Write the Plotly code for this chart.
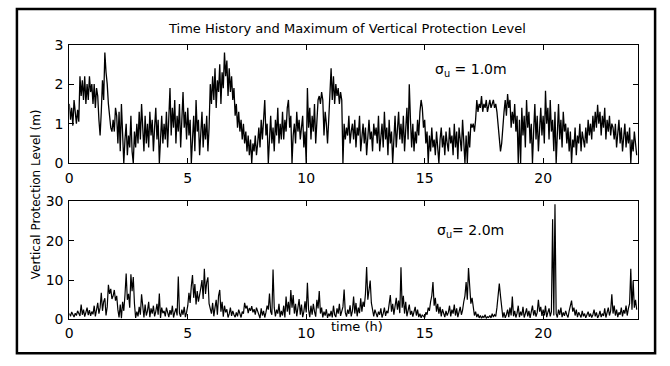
import plotly.graph_objects as go

# ---------------- data ----------------
sample_step_h = 0.05  # one sample every 3 minutes

vpl_sigma1 = [
    1.5, 1.1, 1.4, 0.95, 1.6, 1.2, 1.0, 1.35, 1.05, 2.2, 1.7, 2.1, 1.6, 2.2, 1.5, 2.0, 1.6, 2.2, 1.8, 2.0,
    1.5, 2.0, 1.4, 1.9, 1.7, 1.1, 0.7, 1.3, 2.1, 1.6, 2.8, 2.3, 2.0, 1.5, 1.2, 0.9, 0.8, 1.1, 0.8, 1.4,
    1.2, 0.5, 1.3, 0.3, 1.5, 0.9, 0.0, 0.6, 1.0, 0.2, 0.7, 0.4, 1.2, 0.3, 0.0, 0.8, 0.4, 1.0, 0.5, 1.3,
    0.6, 1.5, 0.8, 0.3, 1.2, 0.5, 1.0, 0.4, 1.3, 0.7, 1.1, 0.3, 0.9, 1.4, 0.6, 1.1, 0.0, 0.8, 1.2, 0.5,
    1.0, 0.6, 1.3, 0.4, 1.1, 1.9, 0.7, 1.4, 0.9, 1.6, 0.5, 1.2, 0.8, 1.5, 0.4, 1.0, 1.8, 0.9, 1.3, 0.6,
    1.4, 0.7, 1.1, 0.0, 0.5, 1.2, 0.3, 1.6, 0.8, 1.1, 0.2, 0.9, 1.3, 0.4, 1.0, 0.6, 1.2, 0.3, 0.9, 2.0,
    1.5, 2.2, 1.6, 2.4, 1.4, 2.1, 1.8, 2.5, 1.5, 2.3, 1.9, 2.8, 2.2, 2.6, 1.7, 2.4, 1.8, 2.2, 1.6, 1.9,
    1.2, 1.5, 0.9, 1.3, 0.8, 1.1, 0.6, 1.0, 0.5, 0.8, 0.3, 0.7, 0.2, 0.6, 0.0, 0.5, 0.3, 0.7, 0.2, 0.5,
    0.9, 0.4, 1.1, 0.6, 1.3, 1.6, 0.7, 1.0, 0.0, 0.6, 1.2, 0.5, 0.9, 0.3, 1.1, 0.7, 1.4, 0.5, 1.0, 0.6,
    1.3, 0.6, 1.1, 0.8, 1.4, 1.6, 0.9, 1.2, 0.0, 0.7, 1.0, 0.5, 1.3, 0.8, 1.1, 0.6, 0.9, 1.2, 0.4, 0.8,
    0.0, 1.9, 0.9, 1.4, 0.6, 1.2, 0.8, 1.5, 0.5, 1.1, 1.6, 1.7, 1.5, 1.8, 1.6, 0.7, 1.3, 1.0, 0.5, 1.1,
    1.8, 2.4, 1.6, 2.2, 1.5, 2.0, 1.7, 1.9, 1.5, 1.8, 1.6, 0.0, 1.0, 0.6, 0.9, 0.7, 1.2, 0.5, 0.8, 1.0,
    0.6, 1.1, 0.4, 0.9, 0.7, 1.2, 0.3, 0.8, 1.0, 0.5, 0.9, 0.2, 0.7, 1.1, 0.6, 0.8, 0.3, 1.0, 0.7, 0.9,
    0.5, 1.2, 0.3, 0.8, 1.0, 0.4, 1.3, 0.6, 0.9, 0.2, 1.1, 0.5, 0.8, 0.0, 0.7, 1.2, 0.4, 0.9, 1.3, 0.6,
    1.0, 0.5, 1.2, 0.3, 0.9, 1.4, 0.6, 2.0, 1.1, 0.4, 1.0, 0.3, 0.8, 0.5, 1.1, 0.7, 1.3, 1.6, 1.4, 0.9,
    1.1, 0.5, 0.8, 0.0, 0.7, 0.3, 0.9, 0.4, 0.6, 0.2, 0.8, 0.3, 0.0, 0.6, 0.9, 0.4, 0.7, 0.2, 0.8, 0.5,
    0.3, 0.9, 0.5, 0.7, 0.2, 1.0, 0.4, 0.8, 0.1, 0.9, 0.6, 0.3, 1.1, 0.5, 0.0, 0.7, 0.0, 0.8, 0.4, 1.0,
    0.9, 1.0, 0.8, 1.1, 1.6, 1.3, 1.5, 1.4, 1.7, 1.3, 1.5, 1.4, 1.6, 1.3, 1.5, 1.6, 1.4, 1.5, 1.6, 1.4,
    1.5, 1.3, 0.9, 0.6, 0.3, 0.5, 1.0, 1.3, 1.6, 1.2, 1.75, 1.4, 1.6, 0.9, 1.3, 1.0, 1.5, 0.8, 1.2, 0.0,
    1.1, 0.0, 1.4, 0.7, 1.2, 0.4, 1.6, 0.9, 1.3, 0.5, 1.0, 0.0, 0.8, 1.5, 0.6, 1.2, 0.3, 1.0, 1.4, 0.7,
    1.2, 0.5, 1.83, 1.0, 1.4, 0.6, 1.6, 0.8, 1.1, 0.3, 1.3, 0.0, 0.9, 1.5, 0.6, 1.1, 0.4, 1.3, 0.8, 1.0,
    0.5, 0.9, 0.3, 0.8, 0.0, 0.6, 0.4, 0.9, 0.2, 0.7, 0.5, 1.0, 0.3, 0.8, 0.6, 0.4, 0.9, 0.5, 1.1, 0.7,
    1.0, 0.6, 1.2, 0.8, 1.3, 0.9, 1.48, 1.0, 1.3, 0.7, 1.2, 0.9, 1.4, 0.6, 1.1, 0.8, 1.2, 0.7, 1.0, 0.9,
    0.6, 1.0, 0.4, 0.8, 1.1, 0.5, 0.9, 0.3, 0.7, 1.0, 0.4, 0.8, 0.5, 0.9, 0.0, 0.6, 0.3, 0.8, 0.5, 0.2,
]

vpl_sigma2 = [
    1.5, 0.8, 1.9, 1.2, 0.6, 1.6, 1.0, 2.2, 1.4, 0.9, 3.8, 1.2, 2.5, 0.7, 1.8, 3.0, 1.1, 2.4, 0.9, 2.0,
    1.3, 3.5, 0.8, 2.6, 4.2, 1.5, 3.0, 6.8, 2.2, 4.5, 5.4, 1.0, 3.2, 8.8, 6.5, 7.8, 5.2, 6.0, 7.5, 4.8,
    6.0, 2.5, 0.5, 3.8, 0.3, 4.5, 2.2, 6.2, 11.7, 5.0, 6.5, 3.0, 11.5, 7.2, 10.8, 4.0, 0.4, 2.0, 0.8, 3.2,
    1.2, 6.4, 2.5, 0.5, 3.8, 1.0, 2.2, 4.5, 0.6, 2.8, 1.5, 3.5, 0.8, 2.0, 4.0, 1.2, 6.6, 0.4, 3.0, 1.6,
    2.2, 0.8, 3.0, 1.5, 0.6, 2.4, 1.2, 3.5, 0.5, 1.8, 2.8, 1.0, 10.9, 1.6, 0.7, 2.5, 1.2, 3.2, 0.6, 1.8,
    3.5, 6.8, 4.2, 8.5, 11.3, 5.5, 9.0, 3.8, 7.2, 4.5, 6.0, 8.0, 10.0, 5.2, 12.9, 6.5, 9.5, 10.7, 4.0, 2.5,
    1.5, 4.2, 0.8, 3.0, 5.0, 1.2, 6.0, 7.5, 2.0, 4.5, 0.7, 3.5, 1.8, 2.6, 0.5, 1.4, 3.0, 0.9, 2.2, 1.2,
    0.6, 1.8, 0.8, 2.5, 1.2, 0.5, 2.0, 1.5, 4.2, 2.8, 3.5, 1.6, 2.9, 2.2, 3.4, 1.8, 2.6, 1.2, 3.0, 2.0,
    1.5, 0.3, 2.8, 1.0, 2.2, 0.5, 1.8, 3.5, 2.5, 6.6, 2.0, 1.2, 12.7, 3.0, 0.8, 2.5, 1.5, 4.0, 0.6, 2.2,
    1.0, 3.5, 0.5, 5.8, 2.0, 4.5, 1.2, 7.5, 3.0, 6.2, 1.5, 4.0, 0.8, 2.5, 5.2, 1.2, 3.8, 0.6, 2.0, 4.6,
    1.8, 9.3, 2.5, 0.6, 3.5, 1.2, 4.0, 2.0, 0.7, 5.0, 2.8, 7.2, 1.5, 3.0, 0.5, 2.0, 1.0, 2.6, 0.4, 1.5,
    0.8, 2.2, 0.5, 3.5, 1.2, 0.6, 2.8, 1.5, 4.0, 0.9, 2.0, 3.2, 7.6, 1.8, 0.7, 2.5, 1.4, 3.6, 0.8, 2.2,
    5.8, 1.5, 4.2, 0.8, 3.0, 1.6, 5.4, 2.0, 4.5, 3.2, 6.5, 13.3, 5.0, 8.0, 9.9, 4.2, 2.0, 0.8, 2.5, 1.2,
    0.6, 2.0, 1.2, 2.8, 0.5, 1.5, 3.0, 0.9, 2.2, 1.6, 4.5, 6.2, 2.0, 4.0, 1.2, 3.5, 5.5, 2.5, 4.8, 1.6,
    13.3, 3.0, 6.0, 1.5, 4.5, 0.8, 2.5, 3.8, 1.2, 2.2, 0.7, 1.8, 3.2, 1.0, 2.5, 0.6, 1.5, 0.4, 1.2, 0.8,
    0.5, 1.8, 1.2, 3.0, 2.2, 4.5, 6.0, 9.5, 3.5, 5.5, 2.0, 4.0, 1.5, 3.2, 0.8, 2.6, 1.5, 0.6, 2.2, 1.0,
    1.8, 3.5, 0.8, 2.5, 1.5, 3.8, 1.0, 2.8, 0.6, 2.0, 3.2, 1.2, 2.4, 4.5, 6.0, 9.5, 5.0, 13.1, 7.5, 4.0,
    5.5, 2.5, 1.0, 2.0, 0.6, 1.4, 0.4, 1.0, 0.3, 0.8, 0.5, 1.2, 0.3, 0.7, 0.5, 1.0, 0.4, 1.5, 0.6, 1.2,
    0.8, 3.0, 5.5, 9.1, 6.0, 2.5, 0.5, 1.8, 0.4, 1.2, 2.5, 0.6, 3.0, 1.0, 5.8, 0.8, 2.2, 0.5, 1.6, 3.5,
    0.6, 2.0, 1.0, 3.2, 0.5, 1.5, 2.8, 0.8, 2.2, 0.4, 1.6, 3.5, 1.0, 2.4, 0.7, 1.8, 5.0, 2.0, 3.2, 0.9,
    2.5, 1.0, 3.5, 0.6, 1.8, 2.8, 0.8, 2.0, 25.5, 1.0, 29.3, 1.5, 0.5, 2.5, 1.2, 3.0, 0.6, 1.8, 0.9, 2.2,
    1.2, 0.5, 2.2, 3.2, 4.8, 2.0, 3.0, 1.0, 2.5, 0.6, 1.8, 1.2, 0.5, 2.2, 0.8, 1.5, 0.4, 1.2, 2.0, 0.7,
    1.5, 0.5, 1.2, 2.5, 0.8, 1.8, 0.4, 1.0, 2.2, 0.6, 1.5, 0.9, 2.8, 0.5, 1.6, 3.0, 1.0, 2.2, 6.4, 1.5,
    3.5, 1.0, 2.5, 0.6, 1.8, 1.2, 3.0, 0.8, 2.4, 1.5, 3.5, 1.0, 2.8, 4.0, 12.9, 2.5, 9.9, 3.0, 5.0, 2.5,
]

time_h = [round(i * sample_step_h, 2) for i in range(len(vpl_sigma1))]

x_ticks = [0, 5, 10, 15, 20]
y1_ticks = [0, 1, 2, 3]
y2_ticks = [0, 10, 20, 30]

title_text = "Time History and Maximum of Vertical Protection Level"
ylabel_text = "Vertical Protection Level (m)"
xlabel_text = "time (h)"
label_top = "σ<sub>u</sub> = 1.0m"
label_bot = "σ<sub>u</sub>= 2.0m"

# ---------------- layout helpers ----------------
W, H = 670, 366
def px(x):
    return x / W
def py(y):
    return 1 - y / H

FONT = "DejaVu Sans, Arial, sans-serif"

fig = go.Figure()
fig.add_trace(go.Scatter(x=time_h, y=vpl_sigma1, mode="lines",
                         line=dict(color="black", width=1.3), xaxis="x", yaxis="y",
                         showlegend=False))
fig.add_trace(go.Scatter(x=time_h, y=vpl_sigma2, mode="lines",
                         line=dict(color="black", width=1.2), xaxis="x2", yaxis="y2",
                         showlegend=False))

axis_common = dict(showline=True, linecolor="black", linewidth=1, mirror="ticks",
                   ticks="inside", ticklen=5, tickcolor="black", tickwidth=1,
                   showgrid=False, zeroline=False,
                   tickfont=dict(family=FONT, size=14, color="black"))

xdom = [px(65.7), px(637.7)]
fig.update_layout(
    width=W, height=H,
    margin=dict(l=0, r=0, t=0, b=0),
    paper_bgcolor="white", plot_bgcolor="white",
    xaxis=dict(domain=xdom, range=[0, 24], tickvals=x_ticks, anchor="y",
               ticklabelstandoff=2, **axis_common),
    yaxis=dict(domain=[py(162.3), py(38.3)], range=[0, 3], tickvals=y1_ticks,
               anchor="x", ticklabelstandoff=2, **axis_common),
    xaxis2=dict(domain=xdom, range=[0, 24], tickvals=x_ticks, anchor="y2",
                ticklabelstandoff=1, **axis_common),
    yaxis2=dict(domain=[py(325.7), py(202.3)], range=[0, 30], tickvals=y2_ticks,
                anchor="x2", ticklabelstandoff=2, **axis_common),
)

# outer figure frame
fig.add_shape(type="rect", xref="paper", yref="paper",
              x0=px(13), x1=px(655), y0=py(361), y1=py(1),
              line=dict(color="black", width=2.5), fillcolor="rgba(0,0,0,0)")

fig.add_annotation(text=title_text, xref="paper", yref="paper",
                   x=px(345), y=py(21), xanchor="center", yanchor="middle",
                   showarrow=False, font=dict(family=FONT, size=13, color="black"))
fig.add_annotation(text=ylabel_text, xref="paper", yref="paper",
                   x=px(33), y=py(195), xanchor="center", yanchor="middle",
                   textangle=-90, showarrow=False,
                   font=dict(family=FONT, size=12, color="black"))
fig.add_annotation(text=xlabel_text, xref="paper", yref="paper",
                   x=px(355), y=py(333), xanchor="center", yanchor="middle",
                   showarrow=False, font=dict(family=FONT, size=13, color="black"))
fig.add_annotation(text=label_top, xref="paper", yref="paper",
                   x=px(432), y=py(65), xanchor="left", yanchor="middle",
                   showarrow=False, font=dict(family=FONT, size=14, color="black"))
fig.add_annotation(text=label_bot, xref="paper", yref="paper",
                   x=px(434), y=py(233), xanchor="left", yanchor="middle",
                   showarrow=False, font=dict(family=FONT, size=14, color="black"))

fig.write_html("out.html")
